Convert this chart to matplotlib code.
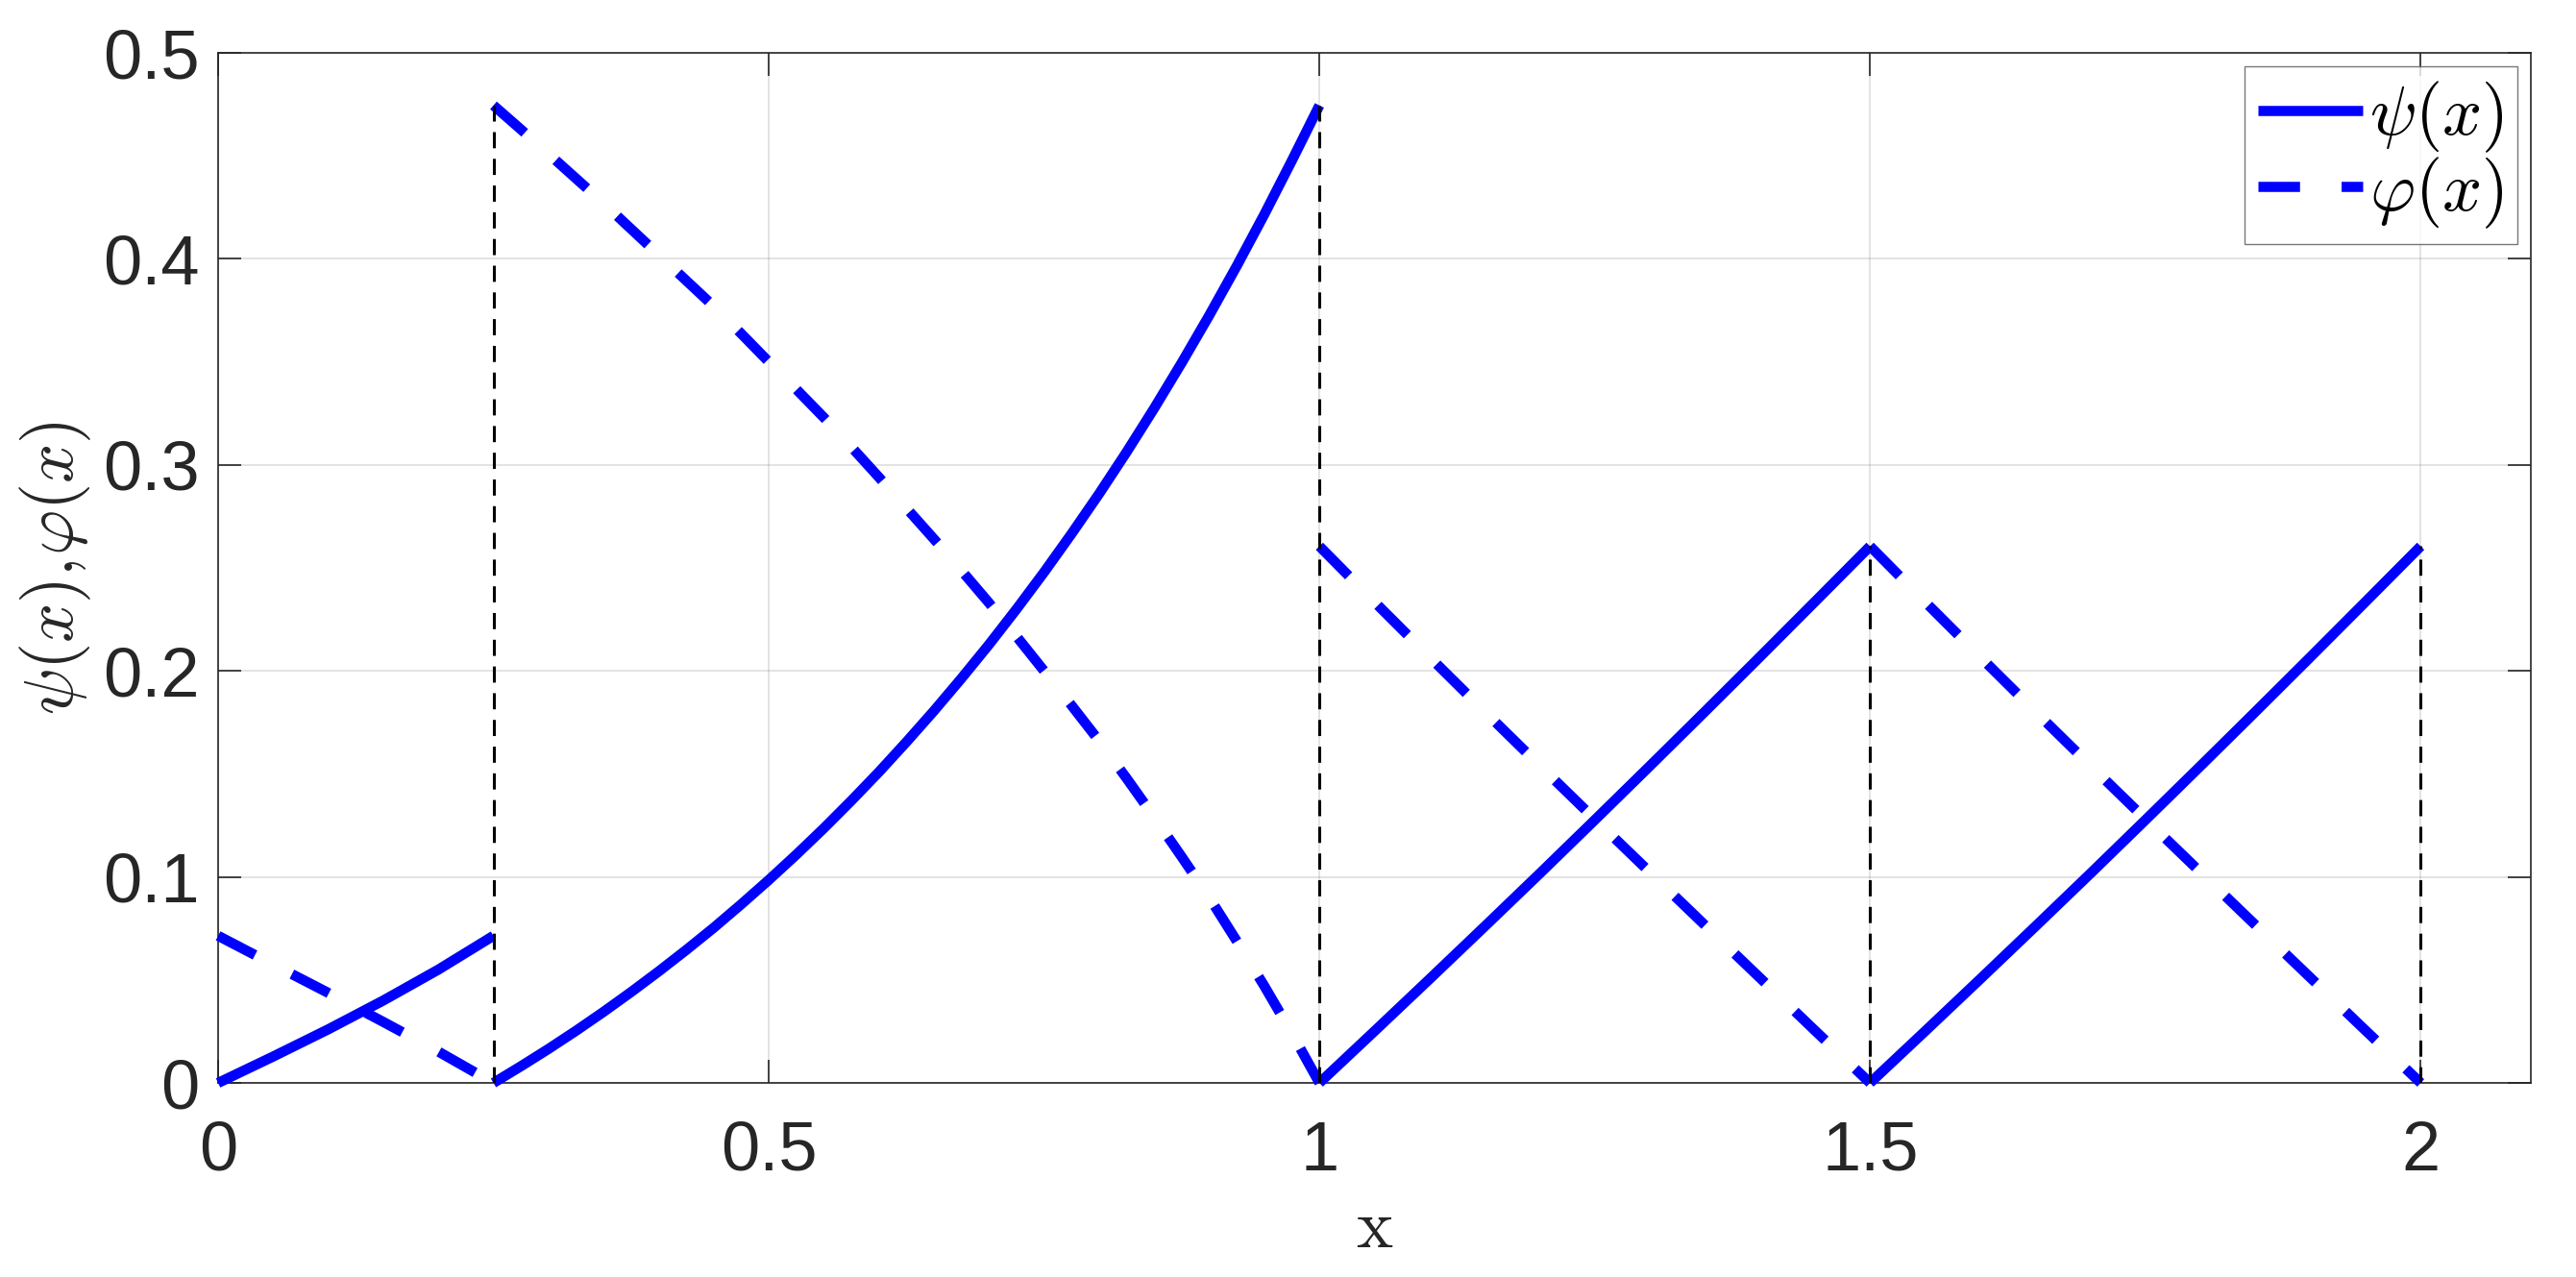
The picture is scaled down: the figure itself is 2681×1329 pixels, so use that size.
import matplotlib
matplotlib.use("Agg")
import matplotlib.pyplot as plt

plt.rcParams["mathtext.fontset"] = "cm"
plt.rcParams["font.family"] = ["Liberation Sans", "DejaVu Sans"]

# psi(x) 分段读数
psi_x1 = [0.0, 0.05, 0.10, 0.15, 0.20, 0.25]
psi_y1 = [0.0, 0.0128, 0.0260, 0.0400, 0.0550, 0.0714]
psi_x2 = [0.250, 0.275, 0.300, 0.325, 0.350, 0.375, 0.400, 0.425, 0.450, 0.475, 0.500,
          0.525, 0.550, 0.575, 0.600, 0.625, 0.650, 0.675, 0.700, 0.725, 0.750,
          0.775, 0.800, 0.825, 0.850, 0.875, 0.900, 0.925, 0.950, 0.975, 1.000]
psi_y2 = [0.0, 0.0081, 0.0165, 0.0253, 0.0345, 0.0441, 0.0541, 0.0645, 0.0753, 0.0867, 0.0985,
          0.1108, 0.1236, 0.1370, 0.1509, 0.1655, 0.1806, 0.1964, 0.2128, 0.2300, 0.2479,
          0.2666, 0.2860, 0.3063, 0.3275, 0.3496, 0.3726, 0.3966, 0.4216, 0.4477, 0.4745]
psi_x3 = [1.00, 1.05, 1.10, 1.15, 1.20, 1.25, 1.30, 1.35, 1.40, 1.45, 1.50]
psi_y3 = [0.0, 0.0251, 0.0504, 0.0759, 0.1016, 0.1276, 0.1538, 0.1802, 0.2068, 0.2336, 0.2605]
psi_x4 = [1.50, 1.55, 1.60, 1.65, 1.70, 1.75, 1.80, 1.85, 1.90, 1.95, 2.00]
psi_y4 = [0.0, 0.0251, 0.0504, 0.0759, 0.1016, 0.1276, 0.1538, 0.1802, 0.2068, 0.2336, 0.2605]

# varphi(x) 分段读数
phi_x1 = [0.0, 0.05, 0.10, 0.15, 0.20, 0.25]
phi_y1 = [0.0714, 0.0575, 0.0437, 0.0296, 0.0152, 0.0]
phi_x2 = psi_x2
phi_y2 = [0.4745, 0.4628, 0.451, 0.439, 0.427, 0.4145, 0.402, 0.3895, 0.377, 0.3637, 0.350,
          0.3367, 0.323, 0.3087, 0.294, 0.279, 0.264, 0.2487, 0.233, 0.2167, 0.200,
          0.1832, 0.166, 0.1478, 0.129, 0.1097, 0.090, 0.0688, 0.047, 0.0241, 0.0]
phi_x3 = psi_x3
phi_y3 = [0.2605, 0.2335, 0.2068, 0.1803, 0.1541, 0.1281, 0.1023, 0.0766, 0.0510, 0.0254, 0.0]
phi_x4 = psi_x4
phi_y4 = [0.2605, 0.2335, 0.2068, 0.1803, 0.1541, 0.1281, 0.1023, 0.0766, 0.0510, 0.0254, 0.0]

# 跳变处的竖直虚线
jump_x = [0.25, 1.0, 1.5, 2.0]
jump_top = [0.4745, 0.4745, 0.2605, 0.2605]

xticks = [0, 0.5, 1, 1.5, 2]
xtick_labels = ["0", "0.5", "1", "1.5", "2"]
yticks = [0, 0.1, 0.2, 0.3, 0.4, 0.5]
ytick_labels = ["0", "0.1", "0.2", "0.3", "0.4", "0.5"]

W, H, DPI = 2681, 1329, 200
fig = plt.figure(figsize=(W / DPI, H / DPI), dpi=DPI)
ax = fig.add_axes([227 / W, 1 - 1127 / H, 2407 / W, 1072 / H])

blue = "#0000ff"
lw = 3.8
dash = (0, (4.1, 4.1))

psi_segs = [(psi_x1, psi_y1), (psi_x2, psi_y2), (psi_x3, psi_y3), (psi_x4, psi_y4)]
phi_segs = [(phi_x1, phi_y1), (phi_x2, phi_y2), (phi_x3, phi_y3), (phi_x4, phi_y4)]

for i, (xs, ys) in enumerate(psi_segs):
    ax.plot(xs, ys, color=blue, lw=lw, solid_capstyle="butt", solid_joinstyle="round",
            clip_on=False, label=r"$\psi(x)$" if i == 0 else None, zorder=3)
for i, (xs, ys) in enumerate(phi_segs):
    ax.plot(xs, ys, color=blue, lw=lw, linestyle=dash, dash_capstyle="butt",
            dash_joinstyle="round", clip_on=False,
            label=r"$\varphi(x)$" if i == 0 else None, zorder=3)

for x, top in zip(jump_x, jump_top):
    ax.plot([x, x], [0, top], color="k", lw=1.1, linestyle=(0, (5.5, 3.6)), zorder=4)

ax.set_xlim(0, 2.1)
ax.set_ylim(0, 0.5)
ax.set_xticks(xticks, xtick_labels)
ax.set_yticks(yticks, ytick_labels)

ax.tick_params(direction="in", top=True, right=True, length=8.6, width=0.6,
               color="#262626", labelcolor="#262626", labelsize=26)
ax.tick_params(axis="x", pad=14)
ax.tick_params(axis="y", pad=7)

for sp in ax.spines.values():
    sp.set_color("#262626")
    sp.set_linewidth(0.6)

ax.grid(True, color="#262626", alpha=0.15, lw=0.6)
ax.set_axisbelow(True)

ax.set_xlabel(r"$\mathrm{x}$", fontsize=26, color="#262626", va="center")
ax.set_ylabel(r"$\psi(x),\!\varphi(x)$", fontsize=26, color="#262626", va="center")
ax.xaxis.set_label_coords(0.5, -0.142)
ax.yaxis.set_label_coords(-0.0702, 0.5)

leg = ax.legend(loc="upper right", fontsize=26, handlelength=1.51, handletextpad=0.1,
                borderpad=0.2, labelspacing=0.0, borderaxespad=0.19, frameon=True,
                fancybox=False)
leg.get_frame().set_edgecolor("#555555")
leg.get_frame().set_linewidth(0.5)

fig.savefig("out.png", dpi=DPI)
